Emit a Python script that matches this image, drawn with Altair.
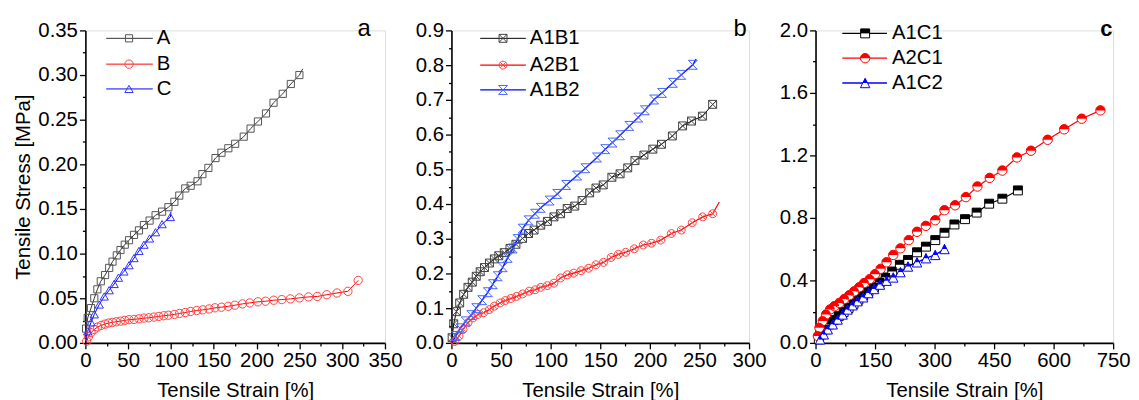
import altair as alt
import pandas as pd

FONT = "Liberation Sans"
H = 315
FS = 20.5

# ---------------- panel a ----------------
A_strain = [0.8, 2.7, 6.6, 10.4, 14, 18, 23, 27.8, 31.7, 36.7, 41, 46, 51, 56.8, 62.6, 68.4, 75, 82, 89.6, 97, 104,
            109.7, 116.7, 123, 131, 136.7, 143.7, 152, 159, 167, 175, 185, 193, 201.6, 211, 219.8, 230.6, 240, 250]
A_stress = [0.016, 0.028, 0.039, 0.050, 0.060, 0.069, 0.076, 0.084, 0.091, 0.098, 0.104, 0.110, 0.115, 0.121, 0.126,
            0.132, 0.137, 0.143, 0.147, 0.152, 0.158,
            0.165, 0.173, 0.176, 0.181, 0.189, 0.196, 0.207, 0.213, 0.218, 0.223, 0.231, 0.240, 0.248, 0.257, 0.269,
            0.279, 0.290, 0.300]
A_end = (254, 0.307)

B_strain = [1.5, 3.5, 6.6, 10.4, 14.3, 18.5, 22.8, 27, 31.6, 36, 41, 46, 51, 56.8, 62.6, 68.4, 74, 80, 85.7, 91.5,
            97, 104, 110, 116.7, 123, 130, 137, 144.5, 151.4, 159, 166.9, 174.6, 183.5, 192, 201.6, 210.5, 220,
            229.4, 239.5, 250, 260.7, 271, 282, 294, 306.7, 318.7]
B_stress = [0.002, 0.0067, 0.0115, 0.015, 0.0178, 0.0196, 0.021, 0.0222, 0.023, 0.0237, 0.0244, 0.0252, 0.026,
            0.0263, 0.027, 0.0278, 0.0281, 0.0289, 0.0296, 0.0304, 0.031, 0.0319, 0.033, 0.034, 0.0352, 0.0363,
            0.037, 0.038, 0.0393, 0.040, 0.041, 0.0422, 0.0437, 0.0448, 0.046, 0.0467, 0.0478, 0.0485, 0.0493,
            0.0504, 0.0515, 0.052, 0.054, 0.0559, 0.0578, 0.070]

C_strain = [2.7, 6.6, 10.4, 16.2, 22, 27.8, 33.6, 38.6, 45, 51, 56.8, 62.6, 68.4, 75, 82, 89.6, 99.3]
C_stress = [0.013, 0.023, 0.032, 0.043, 0.052, 0.059, 0.066, 0.073, 0.080, 0.087, 0.095, 0.103, 0.110, 0.117,
            0.124, 0.133, 0.141]
C_end = (100, 0.147)

# ---------------- panel b ----------------
A1B1_strain = [0.7, 2.3, 5, 8.3, 12.3, 16.7, 21, 25, 29, 33.3, 38.3, 43.3, 47.7, 53.3, 59, 65, 71.7, 77.7, 83.3, 90,
               96.7, 103.3, 110, 116.7, 124.3, 131.7, 139.3, 145.7, 153, 161.7, 170, 177.7, 185, 194, 203, 211.7,
               222.7, 233, 242, 253, 263.3]
A1B1_stress = [0.015, 0.055, 0.09, 0.115, 0.14, 0.16, 0.175, 0.192, 0.205, 0.217, 0.23, 0.242, 0.251, 0.26, 0.272,
               0.284, 0.301, 0.315, 0.325, 0.339, 0.350, 0.363, 0.372, 0.387, 0.394, 0.41, 0.432, 0.446, 0.455,
               0.477, 0.487, 0.504, 0.525, 0.541, 0.558, 0.572, 0.596, 0.625, 0.639, 0.653, 0.687]
A1B1_end = (266.7, 0.696)

A2B1_strain = [3.3, 7.7, 11.7, 16.7, 21.7, 26.7, 32.3, 38.3, 43.3, 49, 54.3, 60, 65.7, 71.7, 78.3, 84.3, 90, 96.7,
               103.3, 110, 116.7, 123.3, 130.7, 138.3, 145.7, 153.3, 161, 168.3, 175.7, 184.3, 193.3, 201.7, 211,
               221.7, 231.7, 242.7, 253.3, 263.3]
A2B1_stress = [0.004, 0.02, 0.039, 0.058, 0.072, 0.082, 0.087, 0.096, 0.106, 0.115, 0.122, 0.128, 0.134, 0.141,
               0.149, 0.153, 0.160, 0.165, 0.172, 0.187, 0.196, 0.201, 0.208, 0.215, 0.225, 0.232, 0.246, 0.255,
               0.261, 0.271, 0.282, 0.287, 0.296, 0.315, 0.325, 0.346, 0.363, 0.372]
A2B1_end = (270, 0.406)

A1B2_strain = [4.3, 9, 14.3, 20, 25, 31, 36.7, 41.7, 46.7, 51.7, 56.7, 61.7, 66.7, 71.7, 77.7, 84.3, 90, 99, 106.7,
               115.7, 126.7, 135, 146.7, 155, 162.3, 170, 179.3, 188.3, 195, 204.3, 212.3, 223.3, 231.7, 243.3]
A1B2_stress = [0.02, 0.042, 0.062, 0.08, 0.1, 0.123, 0.146, 0.169, 0.192, 0.218, 0.245, 0.272, 0.299, 0.329, 0.353,
               0.372, 0.389, 0.41, 0.429, 0.455, 0.482, 0.503, 0.534, 0.558, 0.577, 0.598, 0.625, 0.649, 0.67,
               0.701, 0.72, 0.749, 0.772, 0.801]
A1B2_end = (246.7, 0.817)

# ---------------- panel c ----------------
A1C1_strain = [8.3, 15.8, 25, 35, 45.8, 58.3, 70.8, 83.3, 95.8, 108, 120, 133.3, 147.5, 161.7, 176.7, 193.3, 212.5,
               233, 255.8, 278.3, 301.7, 325, 350, 376.7, 406, 437.5, 470.8, 510]
A1C1_stress = [0.023, 0.055, 0.087, 0.119, 0.146, 0.171, 0.197, 0.224, 0.25, 0.277, 0.303, 0.33, 0.356, 0.387,
               0.419, 0.457, 0.50, 0.531, 0.58, 0.616, 0.658, 0.705, 0.758, 0.792, 0.834, 0.891, 0.923, 0.976]
A1C1_end = (520.8, 1.003)

A2C1_strain = [6, 10, 18.3, 26.7, 36.7, 47.5, 60, 72.5, 85, 97.5, 110, 122.5, 136.7, 150, 164, 179, 195.8, 214,
               235, 255.8, 278, 301.7, 325, 351.7, 379, 408, 439, 470.8, 507.5, 543, 585, 626.7, 670.8, 718]
A2C1_stress = [0.044, 0.097, 0.14, 0.182, 0.214, 0.235, 0.256, 0.281, 0.305, 0.330, 0.356, 0.383, 0.408, 0.44,
               0.474, 0.516, 0.563, 0.605, 0.658, 0.711, 0.749, 0.785, 0.849, 0.881, 0.933, 1.001, 1.056, 1.103,
               1.187, 1.23, 1.30, 1.367, 1.435, 1.488]

A1C2_strain = [11.7, 20.8, 30.8, 43.3, 55.8, 68.3, 80.8, 93.3, 106, 120, 133.3, 147.5, 162.5, 179, 195.8, 214, 233,
               255.8, 278.3, 301.7, 325]
A1C2_stress = [0.023, 0.055, 0.087, 0.119, 0.150, 0.182, 0.214, 0.241, 0.267, 0.292, 0.319, 0.345, 0.373, 0.398,
               0.419, 0.453, 0.489, 0.516, 0.542, 0.563, 0.601]

ORIGIN = (0, 0)

# tick values (major + minor)
a_xticks = [0, 25, 50, 75, 100, 125, 150, 175, 200, 225, 250, 275, 300, 325, 350]
a_yticks = [0, 0.025, 0.05, 0.075, 0.1, 0.125, 0.15, 0.175, 0.2, 0.225, 0.25, 0.275, 0.3, 0.325, 0.35]
b_xticks = [0, 25, 50, 75, 100, 125, 150, 175, 200, 225, 250, 275, 300]
b_yticks = [0, 0.05, 0.1, 0.15, 0.2, 0.25, 0.3, 0.35, 0.4, 0.45, 0.5, 0.55, 0.6, 0.65, 0.7, 0.75, 0.8, 0.85, 0.9]
c_xticks = [0, 75, 150, 225, 300, 375, 450, 525, 600, 675, 750]
c_yticks = [0, 0.2, 0.4, 0.6, 0.8, 1.0, 1.2, 1.4, 1.6, 1.8, 2.0]

X_TITLE = "Tensile Strain [%]"
Y_TITLE = "Tensile Stress [MPa]"

# shapes
SQX = "M-1,-1L1,-1L1,1L-1,1Z M-1,-1L1,1 M1,-1L-1,1"
CIRX = "M-1,0A1,1,0,1,0,1,0A1,1,0,1,0,-1,0Z M-0.7,-0.7L0.7,0.7 M0.7,-0.7L-0.7,0.7"
HOURGLASS = "M-1,-1L1,-1L-1,1L1,1Z"
SQ_TOP = "M-1,-1L1,-1L1,0L-1,0Z"
CIRC_TOP = "M-1,0A1,1,0,0,1,1,0Z"
TRI = "M0,-1L1,1L-1,1Z"
TRI_TOP = "M0,-1L0.5,0L-0.5,0Z"


def make_axis(values, step, fmt, title, tpad):
    test = f"abs(datum.value/{step} - round(datum.value/{step})) < 0.001"
    kw = dict(
        values=values,
        labelExpr=f"{test} ? format(datum.value, '{fmt}') : ''",
        tickSize={"condition": {"test": test, "value": 6}, "value": 3},
        tickWidth=1.3, tickColor="black", domainColor="black", domainWidth=1.6,
        labelFont=FONT, labelFontSize=FS, labelColor="black", labelPadding=2,
        labelFlush=False, labelOverlap=False, labelBound=False,
        titleFont=FONT, titleFontSize=FS, titleFontWeight="normal", titleColor="black",
        titlePadding=tpad, grid=False,
    )
    kw["title"] = title
    return alt.Axis(**kw)


def build_panel(series, X, Y, width, leg, letter):
    layers = []
    for s in series:
        lx = [ORIGIN[0]] + s["x"] + ([s["end"][0]] if s.get("end") else [])
        ly = [ORIGIN[1]] + s["y"] + ([s["end"][1]] if s.get("end") else [])
        ldf = pd.DataFrame({"x": lx, "y": ly})
        layers.append(alt.Chart(ldf).mark_line(color=s["line"], strokeWidth=s["lw"]).encode(x=X, y=Y))
    for s in series:
        pdf = pd.DataFrame({"x": s["x"], "y": s["y"]})
        for st in s["marks"]:
            layers.append(alt.Chart(pdf).mark_point(opacity=1, **st).encode(x=X, y=Y))
    # legend
    x0, x1, xm, xt, rows = leg
    for s, yy in zip(series, rows):
        ldf = pd.DataFrame({"label": [s["name"]]})
        layers.append(alt.Chart(ldf).mark_rule(color=s["line"], strokeWidth=s["lw"]).encode(
            x=alt.value(x0), x2=alt.value(x1), y=alt.value(yy)))
        for st in s["marks"]:
            layers.append(alt.Chart(ldf).mark_point(opacity=1, **st).encode(x=alt.value(xm), y=alt.value(yy)))
        layers.append(alt.Chart(ldf).mark_text(align="left", baseline="middle", font=FONT, fontSize=FS,
                                               color="black").encode(
            x=alt.value(xt), y=alt.value(yy), text="label:N"))
    ltxt, lx_, ly_, lsize, lweight = letter
    layers.append(alt.Chart(pd.DataFrame({"t": [ltxt]})).mark_text(
        align="center", baseline="alphabetic", font=FONT, fontSize=lsize, fontWeight=lweight, color="black"
    ).encode(x=alt.value(lx_), y=alt.value(ly_), text="t:N"))
    return alt.layer(*layers).properties(width=width, height=H)


# ---------- panel a ----------
Xa = alt.X("x:Q", scale=alt.Scale(domain=[0, 350], nice=False, zero=False),
           axis=make_axis(a_xticks, 50, "d", X_TITLE, 10))
Ya = alt.Y("y:Q", scale=alt.Scale(domain=[0, 0.35], nice=False, zero=False),
           axis=make_axis(a_yticks, 0.05, ".2f", Y_TITLE, 4))
series_a = [
    dict(name="A", x=A_strain, y=A_stress, end=A_end, line="#333333", lw=1,
         marks=[dict(shape="square", size=52, filled=False, stroke="#555555", strokeWidth=1)]),
    dict(name="B", x=B_strain, y=B_stress, line="#ff0000", lw=1,
         marks=[dict(shape="circle", size=70, filled=False, stroke="#ff4040", strokeWidth=1)]),
    dict(name="C", x=C_strain, y=C_stress, end=C_end, line="#0000ff", lw=1,
         marks=[dict(shape="triangle-up", size=70, filled=False, stroke="#3333ff", strokeWidth=1)]),
]
pa = build_panel(series_a, Xa, Ya, 302, (21, 68, 44, 72, [8, 34, 59]), ("a", 281, 6, 24, "normal"))

# ---------- panel b ----------
Xb = alt.X("x:Q", scale=alt.Scale(domain=[0, 300], nice=False, zero=False),
           axis=make_axis(b_xticks, 50, "d", X_TITLE, 10))
Yb = alt.Y("y:Q", scale=alt.Scale(domain=[0, 0.9], nice=False, zero=False),
           axis=make_axis(b_yticks, 0.1, ".1f", None, 4))
series_b = [
    dict(name="A1B1", x=A1B1_strain, y=A1B1_stress, end=A1B1_end, line="#000000", lw=1,
         marks=[dict(shape=SQX, size=64, filled=False, stroke="#404040", strokeWidth=1)]),
    dict(name="A2B1", x=A2B1_strain, y=A2B1_stress, end=A2B1_end, line="#ff0000", lw=1.2,
         marks=[dict(shape=CIRX, size=64, filled=False, stroke="#ff4040", strokeWidth=1)]),
    dict(name="A1B2", x=A1B2_strain, y=A1B2_stress, end=A1B2_end, line="#0000ff", lw=1.4,
         marks=[dict(shape=HOURGLASS, size=81, filled=False, stroke="#4466ff", strokeWidth=1)]),
]
pb = build_panel(series_b, Xb, Yb, 300, (29, 75, 52, 79, [8, 35, 60]), ("b", 291, 6, 24, "normal"))

# ---------- panel c ----------
Xc = alt.X("x:Q", scale=alt.Scale(domain=[0, 750], nice=False, zero=False),
           axis=make_axis(c_xticks, 150, "d", X_TITLE, 10))
Yc = alt.Y("y:Q", scale=alt.Scale(domain=[0, 2.0], nice=False, zero=False),
           axis=make_axis(c_yticks, 0.4, ".1f", None, 4))
series_c = [
    dict(name="A1C1", x=A1C1_strain, y=A1C1_stress, end=A1C1_end, line="#000000", lw=1.2,
         marks=[dict(shape="square", size=81, filled=True, fill="white", stroke="#000000", strokeWidth=1),
                dict(shape=SQ_TOP, size=81, filled=True, fill="#000000", strokeWidth=0)]),
    dict(name="A2C1", x=A2C1_strain, y=A2C1_stress, line="#ff0000", lw=1.2,
         marks=[dict(shape="circle", size=90, filled=True, fill="white", stroke="#ff0000", strokeWidth=1),
                dict(shape=CIRC_TOP, size=90, filled=True, fill="#ff0000", strokeWidth=0)]),
    dict(name="A1C2", x=A1C2_strain, y=A1C2_stress, line="#0000ff", lw=1.4,
         marks=[dict(shape=TRI, size=90, filled=True, fill="white", stroke="#0000ff", strokeWidth=1),
                dict(shape=TRI_TOP, size=90, filled=True, fill="#0000ff", strokeWidth=0)]),
]
pc = build_panel(series_c, Xc, Yc, 300, (27, 72, 50, 77, [3, 28, 53]), ("c", 293, 6, 22, "bold"))

chart = alt.hconcat(pa, pb, pc, spacing=67, bounds="flush").properties(
    padding={"left": 5, "top": 7, "right": 0, "bottom": 0}
).configure_view(stroke=None).configure(background="white")

chart.save("out.html", embed_options={"renderer": "svg", "actions": False})
